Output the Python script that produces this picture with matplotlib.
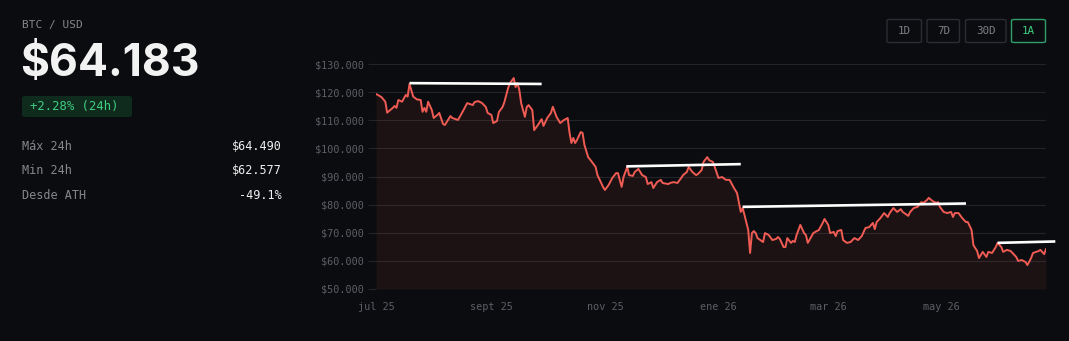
import matplotlib
matplotlib.use("Agg")
import matplotlib.pyplot as plt
import matplotlib.ticker as mticker
from matplotlib.patches import FancyBboxPatch
import pandas as pd

# Datos: días desde 2025-07-01 y precio en miles de USD
dias = [0, 1, 3, 5, 6, 9, 10, 11, 12, 14, 16, 17, 18, 20, 22, 24, 25, 26, 27, 28,
        30, 31, 33, 34, 36, 37, 39, 40, 41, 44, 45, 47, 49, 52, 53, 55, 57, 59, 60, 62,
        63, 65, 66, 68, 69, 71, 72, 74, 75, 76, 77, 78, 80, 81, 82, 84, 85, 87, 89, 90,
        92, 94, 95, 97, 99, 101, 103, 104, 105, 106, 107, 108, 110, 111, 112, 114, 116, 118, 119, 122,
        123, 125, 127, 129, 130, 131, 132, 133, 135, 136, 138, 139, 141, 143, 145, 146, 148, 149, 151, 153,
        154, 157, 158, 160, 162, 164, 165, 167, 168, 170, 172, 173, 175, 176, 178, 179, 181, 182, 184, 186,
        188, 190, 192, 194, 196, 197, 198, 200, 201, 202, 203, 204, 205, 208, 209, 211, 213, 215, 216, 217,
        219, 220, 221, 223, 224, 225, 226, 228, 230, 231, 232, 235, 236, 238, 240, 241, 243, 244, 246, 247,
        248, 250, 251, 253, 255, 257, 258, 259, 261, 263, 265, 267, 268, 269, 271, 273, 275, 276, 278, 280,
        282, 283, 286, 287, 289, 291, 293, 294, 296, 297, 299, 301, 302, 303, 305, 307, 309, 310, 311, 313,
        315, 317, 318, 320, 321, 323, 324, 326, 328, 329, 331, 333, 334, 336, 337, 339, 341, 342, 344, 345,
        347, 349, 350, 352, 353, 356, 357, 359, 360]
precios = [119.3, 119.0, 118.2, 116.6, 112.7, 114.4, 115.1, 114.4, 117.2, 116.6, 119.0, 118.4, 122.9, 118.4, 117.4, 117.2, 113.0, 114.4, 113.0, 116.6,
           113.6, 110.8, 111.9, 112.6, 108.7, 108.3, 110.4, 111.5, 110.8, 110.1, 111.2, 113.6, 116.1, 115.4, 116.5, 116.8, 116.1, 114.7, 112.6, 111.9,
           109.0, 109.7, 112.9, 114.7, 116.5, 121.5, 123.2, 125.0, 121.8, 123.2, 120.8, 116.1, 111.2, 114.7, 115.4, 113.6, 106.5, 108.3, 110.4, 108.0,
           110.8, 112.6, 114.8, 111.2, 109.0, 110.1, 110.8, 105.5, 101.9, 103.7, 101.9, 103.0, 105.8, 105.5, 101.2, 96.9, 95.2, 93.4, 90.5, 86.3,
           85.2, 87.0, 89.5, 91.2, 91.2, 88.8, 86.3, 89.8, 93.4, 90.5, 90.2, 91.6, 92.7, 90.5, 89.8, 87.3, 88.0, 85.9, 88.0, 88.8,
           87.7, 87.3, 87.7, 88.0, 87.7, 89.5, 90.5, 91.6, 93.4, 91.6, 90.5, 90.9, 92.3, 95.2, 96.9, 95.8, 95.2, 93.4, 89.5, 89.8,
           88.8, 88.8, 86.3, 84.1, 77.4, 78.8, 76.3, 71.0, 62.8, 69.9, 70.6, 69.9, 68.1, 66.7, 69.9, 69.2, 67.4, 67.8, 68.5, 67.8,
           64.9, 64.9, 68.1, 66.4, 67.1, 66.7, 69.2, 72.8, 69.9, 69.2, 66.4, 69.9, 70.3, 71.0, 73.5, 74.9, 72.8, 69.9, 70.3, 68.8,
           70.6, 71.0, 67.4, 66.4, 66.7, 68.1, 67.8, 67.4, 68.8, 71.7, 72.0, 73.5, 71.3, 73.8, 75.2, 77.0, 75.6, 77.0, 78.8, 77.4,
           78.4, 77.4, 76.0, 77.4, 78.8, 79.2, 80.9, 80.6, 81.6, 82.4, 81.3, 80.6, 80.9, 79.2, 77.4, 77.0, 77.4, 75.6, 77.0, 77.0,
           75.2, 73.8, 73.8, 71.0, 65.6, 63.5, 61.0, 63.2, 61.4, 63.2, 62.8, 64.9, 66.4, 64.9, 63.2, 63.9, 63.5, 62.8, 61.4, 60.0,
           60.3, 59.6, 58.5, 61.0, 62.8, 63.5, 63.9, 62.4, 64.2]

# Líneas de resistencia (inicio/fin en días, precio en miles)
res_dias = [(18, 89), (134.5, 196), (197, 317), (334, 365)]
res_precios = [(123.2, 122.9), (93.6, 94.4), (79.2, 80.4), (66.4, 66.9)]

ticks_fechas = ["2025-07-01", "2025-09-01", "2025-11-01", "2026-01-01", "2026-03-01", "2026-05-01"]
ticks_textos = ["jul 25", "sept 25", "nov 25", "ene 26", "mar 26", "may 26"]
y_ticks = [50, 60, 70, 80, 90, 100, 110, 120, 130]

botones = ["1D", "7D", "30D", "1A"]
estadisticas = [("Máx 24h", "$64.490"), ("Min 24h", "$62.577"), ("Desde ATH", "-49.1%")]

BG = "#0b0c0f"
ROJO = "#f05c54"
GRID = "#222429"
GRIS = "#85878c"
VERDE = "#3fcf82"
MONO = "DejaVu Sans Mono"

inicio = pd.Timestamp("2025-07-01")
fechas = [inicio + pd.Timedelta(days=d) for d in dias]

W, H = 1069, 341
fig = plt.figure(figsize=(W / 100, H / 100), dpi=100, facecolor=BG)

def fx(px):
    return px / W

def fy(py):
    return 1 - py / H

# Gráfico
ax = fig.add_axes([fx(376), fy(289), fx(1046) - fx(376), fy(64) - fy(289)])
ax.set_facecolor(BG)
ax.fill_between(fechas, precios, 50, color=ROJO, alpha=0.08, lw=0)
ax.plot(fechas, precios, color=ROJO, lw=1.4)
for (d0, d1), (p0, p1) in zip(res_dias, res_precios):
    ax.plot([inicio + pd.Timedelta(days=d0), inicio + pd.Timedelta(days=d1)], [p0, p1],
            color="white", lw=1.9, solid_capstyle="butt", clip_on=False)

ax.set_xlim(inicio, inicio + pd.Timedelta(days=360))
ax.set_ylim(50, 130)
ax.set_yticks(y_ticks)
ax.yaxis.set_major_formatter(mticker.FuncFormatter(lambda v, p: f"${v:.0f}.000"))
ax.set_xticks([pd.Timestamp(t) for t in ticks_fechas])
ax.set_xticklabels(ticks_textos)
ax.grid(axis="y", color=GRID, lw=0.8)
ax.tick_params(axis="y", length=6, color=GRID, width=0.8, pad=3, labelcolor="#5c5f65", labelsize=7.3)
ax.tick_params(axis="x", length=0, pad=9, labelcolor="#5c5f65", labelsize=7.3)
for lab in ax.get_xticklabels() + ax.get_yticklabels():
    lab.set_fontfamily(MONO)
for s in ax.spines.values():
    s.set_visible(False)
ax.set_axisbelow(True)

# Panel izquierdo
fig.text(fx(22), fy(25), "BTC / USD", color=GRIS, fontsize=8, family=MONO, va="center")
fig.text(fx(20), fy(63.5), "$64.183", color="#f2f2f2", fontsize=32, family="Inter",
         fontweight="bold", va="center")
fig.patches.append(FancyBboxPatch((fx(22), fy(117)), fx(132) - fx(22), fy(96) - fy(117),
                                  boxstyle="round,pad=0,rounding_size=0.004",
                                  transform=fig.transFigure, fc="#0f2b1d", ec="none"))
fig.text(fx(30), fy(106.5), "+2.28% (24h)", color=VERDE, fontsize=8.8, family=MONO, va="center")

for i, (etq, val) in enumerate(estadisticas):
    y = 146 + i * 24.5
    fig.text(fx(22), fy(y), etq, color=GRIS, fontsize=8.5, family=MONO, va="center")
    fig.text(fx(282), fy(y), val, color="#f0f0f0", fontsize=8.5, family=MONO, va="center", ha="right")

# Botones de periodo
x_bot = [(887, 921.5), (927, 959.5), (965.5, 1006), (1011.5, 1045.5)]
for (x0, x1), b in zip(x_bot, botones):
    activo = b == "1A"
    fig.patches.append(FancyBboxPatch((fx(x0), fy(42.5)), fx(x1) - fx(x0), fy(19.5) - fy(42.5),
                                      boxstyle="round,pad=0,rounding_size=0.003",
                                      transform=fig.transFigure, fc=BG,
                                      ec="#2f9e6a" if activo else "#2a2d33", lw=1.0))
    fig.text(fx((x0 + x1) / 2), fy(31), b, color=VERDE if activo else "#7d8086",
             fontsize=7.8, family=MONO, ha="center", va="center")

fig.savefig("out.png", dpi=100, facecolor=BG)
